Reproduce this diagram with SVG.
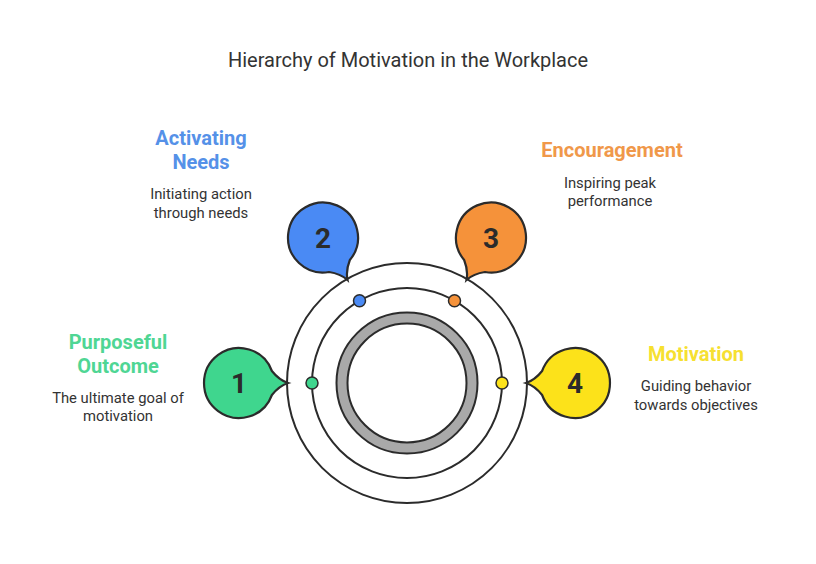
<svg xmlns="http://www.w3.org/2000/svg" width="816" height="564" viewBox="0 0 816 564">
<defs>
<style>
.ring{fill:none;stroke:#2b2b2b;stroke-width:2}
.bub{stroke:#2b2b2b;stroke-width:2.2}
.num{font-family:Roboto,"Liberation Sans",sans-serif;font-size:28px;font-weight:bold;fill:#2b2b2b;text-anchor:middle}
.head{font-family:Roboto,"Liberation Sans",sans-serif;font-size:20px;font-weight:bold;text-anchor:middle}
.desc{font-family:Roboto,"Liberation Sans",sans-serif;font-size:14.8px;fill:#333;text-anchor:middle}
.title{font-family:Roboto,"Liberation Sans",sans-serif;font-size:20px;fill:#333;text-anchor:middle}
.dot{stroke:#2b2b2b;stroke-width:1.5}
</style>
<path id="bubble" d="M 32.9 -12 Q 40 -3 49 0 Q 40 3 32.9 12 A 35 35 0 1 1 32.9 -12 Z"/>
</defs>
<rect width="816" height="564" fill="#fff"/>
<text class="title" x="408" y="67">Hierarchy of Motivation in the Workplace</text>
<g id="rings">
<circle class="ring" cx="407" cy="383" r="120"/>
<circle class="ring" cx="407" cy="383" r="95"/>
<circle cx="407" cy="383" r="70.5" fill="#a9a9a9" stroke="#2b2b2b" stroke-width="2"/>
<circle cx="407" cy="383" r="59.5" fill="#fff" stroke="#2b2b2b" stroke-width="2"/>
</g>
<g id="connectors">
<circle class="dot" cx="312" cy="383" r="6" fill="#3fd68e"/>
<circle class="dot" cx="359.5" cy="300.7" r="6" fill="#4a8af4"/>
<circle class="dot" cx="454.5" cy="300.7" r="6" fill="#f5923a"/>
<circle class="dot" cx="502" cy="383" r="6" fill="#fce21a"/>
</g>
<g id="node1">
<g transform="translate(239,383)"><use href="#bubble" class="bub" fill="#3fd68e"/></g>
<text class="num" x="239" y="393">1</text>
<text class="head" x="118" y="349" fill="#4fd694">Purposeful</text>
<text class="head" x="118" y="373" fill="#4fd694">Outcome</text>
<text class="desc" x="118" y="403">The ultimate goal of</text>
<text class="desc" x="118" y="421">motivation</text>
</g>
<g id="node2">
<g transform="translate(323,237.5) rotate(60)"><use href="#bubble" class="bub" fill="#4a8af4"/></g>
<text class="num" x="323" y="247.5">2</text>
<text class="head" x="201" y="145" fill="#5591e8">Activating</text>
<text class="head" x="201" y="169" fill="#5591e8">Needs</text>
<text class="desc" x="201" y="199">Initiating action</text>
<text class="desc" x="201" y="218">through needs</text>
</g>
<g id="node3">
<g transform="translate(491,237.5) rotate(120)"><use href="#bubble" class="bub" fill="#f5923a"/></g>
<text class="num" x="491" y="247.5">3</text>
<text class="head" x="612" y="157" fill="#f0984a">Encouragement</text>
<text class="desc" x="610" y="188">Inspiring peak</text>
<text class="desc" x="610" y="206">performance</text>
</g>
<g id="node4">
<g transform="translate(575,383) rotate(180)"><use href="#bubble" class="bub" fill="#fce21a"/></g>
<text class="num" x="575" y="393">4</text>
<text class="head" x="696" y="361" fill="#f6e030">Motivation</text>
<text class="desc" x="696" y="391">Guiding behavior</text>
<text class="desc" x="696" y="410">towards objectives</text>
</g>
</svg>
